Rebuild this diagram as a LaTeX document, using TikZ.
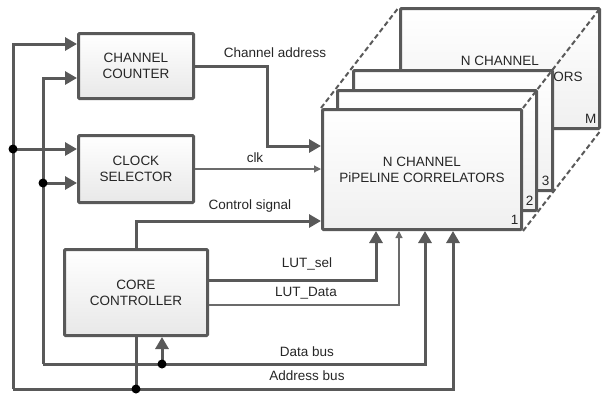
\documentclass[tikz,border=0pt]{standalone}
\usepackage{fontspec}
\setmainfont{Liberation Sans}
\usetikzlibrary{arrows.meta}

\begin{document}
\begin{tikzpicture}[x=1pt, y=-1pt,
      every node/.append style={font=\fontsize{13.5}{16}\selectfont, text=black!85},
      blk/.style={draw=black!65, line width=3pt, rounded corners=1pt, top color=white, bottom color=black!9, align=center, inner sep=0pt},
      pipe/.style={blk, minimum width=199pt, minimum height=120pt, bottom color=black!6},
      wire/.style={draw=black!65, line width=3pt},
      bus/.style={wire, -{Triangle[length=12pt,width=13pt]}},
      sig/.style={draw=black!58, line width=1.2pt, -{Triangle[length=7pt,width=7pt]}},
      lbl/.style={inner sep=1pt},
      num/.style={anchor=south east, inner xsep=4.5pt, inner ysep=6pt},
      dot/.style={circle, fill=black, inner sep=0pt, minimum size=9pt},
      layer/.style={draw=black!65, line width=2pt, dash pattern=on 5pt off 3pt}]

    \useasboundingbox (0,0) rectangle (603,399);

    % ---------------- stack of pipeline correlators ----------------
    \node[pipe] (pcm) at (500,68.5)  {N CHANNEL\\PiPELINE CORRELATORS};
    \node[num] at (pcm.south east) {M};
    \node[pipe] (pc3) at (453,130.5) {};
    \node[num] at (pc3.south east) {3};
    \node[pipe] (pc2) at (437,150.5) {};
    \node[num] at (pc2.south east) {2};
    \node[pipe] (pc1) at (422,169.5) {N CHANNEL\\PiPELINE CORRELATORS};
    \node[num] at (pc1.south east) {1};
    \foreach \a in {north west, north east, south east}
      \draw[layer] (pc1.\a) -- (pcm.\a);

    % ---------------- control blocks ----------------
    \node[blk, minimum width=115pt, minimum height=65pt] (cc)   at (136,66)    {CHANNEL\\COUNTER};
    \node[blk, minimum width=115pt, minimum height=67pt] (cs)   at (136,169)   {CLOCK\\SELECTOR};
    \node[blk, minimum width=143pt, minimum height=86pt] (core) at (136,292.5) {CORE\\CONTROLLER};

    % bus corners and junctions
    \coordinate (abus-l) at (13,389);
    \coordinate (dbus-l) at (43,364);
    \coordinate (ca-bend) at (267,146);
    \coordinate (j1) at (13,149);
    \coordinate (j2) at (43,183);
    \coordinate (j3) at (162,364);
    \coordinate (j4) at (136,389);

    % address bus and data bus
    \draw[bus] (abus-l) |- ([yshift=22pt]cc.west);
    \draw[bus] (dbus-l) |- ([yshift=-12pt]cc.west);
    \draw[bus] (j1) -- (cs.west |- j1);
    \draw[bus] (j2) -- (cs.west |- j2);
    \draw[bus] (abus-l) -| ([xshift=31pt]pc1.south);
    \draw[bus] (dbus-l) -| ([xshift=3pt]pc1.south);
    \draw[bus] (j3) -- (core.south -| j3);
    \draw[wire] (core.south) -- (j4);

    % signals into the correlators
    \draw[bus] (cc.east) -| (ca-bend) -- (pc1.west |- ca-bend);
    \draw[sig] (cs.east) -- (pc1.west |- cs.east);
    \draw[bus] (core.north) |- ([yshift=-51.5pt]pc1.west);
    \draw[bus] ([yshift=12.5pt]core.east) -| ([xshift=-46pt]pc1.south);
    \draw[sig] ([yshift=-12.5pt]core.east) -| ([xshift=-23pt]pc1.south);

    \foreach \j in {j1, j2, j3, j4}
      \node[dot] at (\j) {};

    % labels
    \node[lbl] (l-ca)  at (275,53)  {Channel address};
    \node[lbl] (l-clk) at (255,158) {clk};
    \node[lbl] (l-ctl) at (250,206) {Control signal};
    \node[lbl] (l-sel) at (307,264) {LUT\_sel};
    \node[lbl] (l-dat) at (306,293) {LUT\_Data};
    \node[lbl] (l-db)  at (307,352) {Data bus};
    \node[lbl] (l-ab)  at (307,376) {Address bus};
  \end{tikzpicture}
\end{document}
